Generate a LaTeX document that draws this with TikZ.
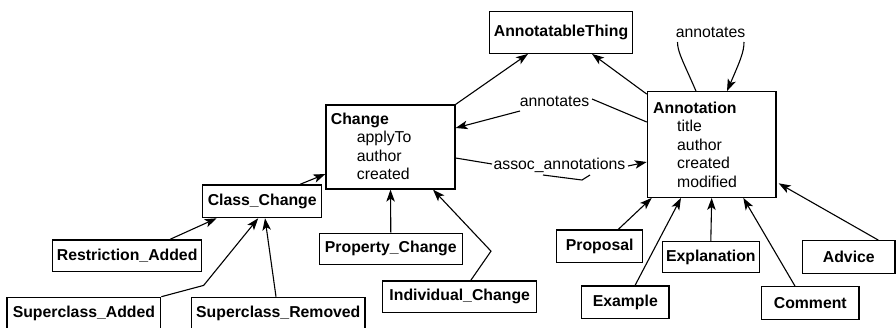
\documentclass[tikz,border=0pt]{standalone}
\usepackage{fontspec}
\setmainfont{Liberation Sans}
\usetikzlibrary{arrows.meta}
\begin{document}
\begin{tikzpicture}[x=1pt,y=-1pt,
  txt/.style={inner sep=0pt, font=\fontsize{15.8}{18}\selectfont},
  cls/.style={draw, line width=1.2pt, inner sep=0pt, font=\fontsize{15.8}{18}\selectfont\bfseries},
  frame/.style={draw, line width=1.2pt, inner sep=0pt},
  attr/.style={txt, anchor=base west},
  link/.style={line width=1.1pt},
  arr/.style={link, -{Stealth[length=12pt,width=8.5pt,inset=3pt]}},
]
\clip (0,0) rectangle (896,327);

% top-level classes
\node[cls, minimum width=143.4pt, minimum height=41.6pt] (thing) at (561,32.5) {AnnotatableThing};

\node[frame, minimum width=129pt, minimum height=84pt] (change) at (390.5,147) {};
\node[attr, font=\fontsize{15.8}{18}\selectfont\bfseries] (changeName) at (330.7,124) {Change};
\node[attr] (changeA1) at (356.7,142.5) {applyTo};
\node[attr] (changeA2) at (356.7,161) {author};
\node[attr] (changeA3) at (356.7,179.5) {created};

\node[frame, minimum width=128.7pt, minimum height=105.6pt] (ann) at (711.7,144.5) {};
\node[attr, font=\fontsize{15.8}{18}\selectfont\bfseries] (annName) at (653,113) {Annotation};
\node[attr] (annA1) at (677,131.5) {title};
\node[attr] (annA2) at (677,150) {author};
\node[attr] (annA3) at (677,168.5) {created};
\node[attr] (annA4) at (677,187) {modified};

% subclasses of Change
\node[cls, minimum width=119pt, minimum height=32.7pt] (classch) at (262.2,201.3) {Class\_Change};
\node[cls, minimum width=149pt, minimum height=31.7pt] (restr) at (127.2,255.8) {Restriction\_Added};
\node[cls, minimum width=153.7pt, minimum height=32pt] (supadd) at (83.9,313.3) {Superclass\_Added};
\node[cls, minimum width=173.3pt, minimum height=32pt] (suprem) at (278.3,313.3) {Superclass\_Removed};
\node[cls, minimum width=143pt, minimum height=31pt] (propch) at (390.8,248.8) {Property\_Change};
\node[cls, minimum width=154pt, minimum height=31.3pt] (indch) at (459.7,296.7) {Individual\_Change};

% subclasses of Annotation
\node[cls, minimum width=86pt, minimum height=32.7pt] (proposal) at (599.7,246.3) {Proposal};
\node[cls, minimum width=97pt, minimum height=31pt] (expl) at (710.8,257.2) {Explanation};
\node[cls, minimum width=92.3pt, minimum height=32.6pt] (advice) at (848.8,257) {Advice};
\node[cls, minimum width=87.3pt, minimum height=32.3pt] (example) at (625.3,302.2) {Example};
\node[cls, minimum width=97.3pt, minimum height=32.6pt] (comment) at (810.3,303) {Comment};

% association labels
\node[txt] (selfLbl) at (710.5,32) {annotates};
\node[txt] (lblA) at (554.5,101) {annotates};
\node[txt] (lblB) at (559.5,165.5) {assoc\_annotations};

% generalisations
\draw[arr] (change.north east) -- ([xshift=-33pt]thing.south);
\draw[arr] ([yshift=-3pt]ann.north west) -- ([xshift=31pt]thing.south);
\draw[arr] ([xshift=37.8pt]classch.north) -- ([yshift=-27pt]change.west);
\draw[arr] ([xshift=42.8pt]restr.north) -- ([xshift=-45.5pt]classch.south);
\draw[arr] (supadd.north east) -- ++(42.3,-11.3) -- ([xshift=-4pt]classch.south);
\draw[arr] ([xshift=-2.3pt]suprem.north) -- ([xshift=2.8pt]classch.south);
\draw[arr] (propch.north) -- (change.south);
\draw[arr] ([xshift=11pt]indch.north) -- ++(20.3,-29.3) -- ([xshift=42.5pt]change.south);
\draw[arr] ([xshift=18.6pt]proposal.north) -- ([xshift=-60pt]ann.south);
\draw[arr] ([xshift=9.7pt]example.north) -- ([xshift=-30.7pt]ann.south);
\draw[arr] (expl.north) -- (ann.south);
\draw[arr] ([xshift=-15.3pt]comment.north) -- ([xshift=31.6pt]ann.south);
\draw[arr] ([xshift=29.5pt]advice.north) -- ([xshift=2pt,yshift=-38.8pt]ann.east);

% associations
\draw[link] ([yshift=22.5pt]ann.west) -- ([xshift=37.5pt,yshift=2pt]lblA.center);
\draw[arr] ([xshift=-34.5pt,yshift=-10pt]lblA.center) -- ([yshift=19pt]change.east);
\draw[link] ([yshift=-11pt]change.east) -- ([xshift=-67.5pt,yshift=1.5pt]lblB.center);
\draw[arr] ([xshift=68.5pt,yshift=-0.5pt]lblB.center) -- ([yshift=-17.5pt]ann.west);
\draw[link] ([xshift=-16.5pt,yshift=-9.5pt]lblB.center) -- ([xshift=22.5pt,yshift=-14.5pt]lblB.center)
  -- ([xshift=30.5pt,yshift=-9.5pt]lblB.center);
\draw[link] ([xshift=-15.7pt]ann.north) .. controls +(-13,-30) and +(0,10) .. ([xshift=-33pt,yshift=-10pt]selfLbl.center);
\draw[arr] ([xshift=33.5pt,yshift=-10pt]selfLbl.center) .. controls +(0,10) and +(13,-30) .. ([xshift=15.3pt]ann.north);
\end{tikzpicture}
\end{document}
